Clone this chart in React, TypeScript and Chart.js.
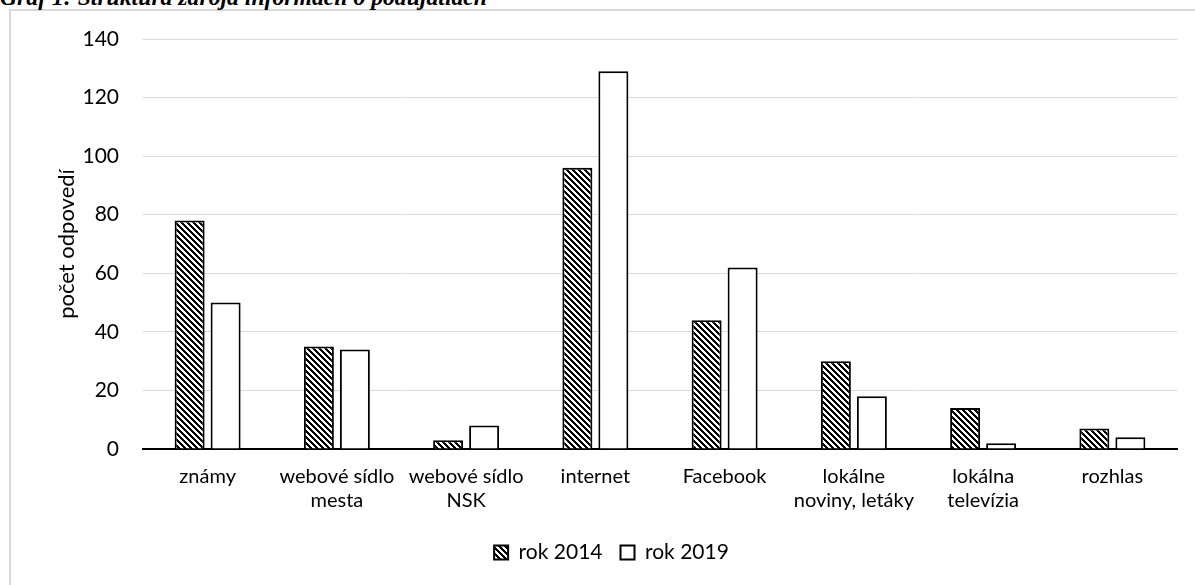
import React, { useEffect, useRef } from "react";
import { Chart, registerables } from "chart.js";

Chart.register(...registerables);

const categories: (string | string[])[] = [
  "známy",
  ["webové sídlo", "mesta"],
  ["webové sídlo", "NSK"],
  "internet",
  "Facebook",
  ["lokálne", "noviny, letáky"],
  ["lokálna", "televízia"],
  "rozhlas",
];
const series2014 = [78, 35, 3, 96, 44, 30, 14, 7];
const series2019 = [50, 34, 8, 129, 62, 18, 2, 4];
const seriesNames = ["rok 2014", "rok 2019"];
const yAxisTitle = "počet odpovedí";
const chartTitle = "Graf 1: Štruktúra zdroja informácií o podujatiach";

function makeHatch(ctx: CanvasRenderingContext2D): CanvasPattern | string {
  const size = 6;
  const tile = document.createElement("canvas");
  tile.width = size;
  tile.height = size;
  const t = tile.getContext("2d");
  if (!t) return "#000";
  t.fillStyle = "#fff";
  t.fillRect(0, 0, size, size);
  t.fillStyle = "#000";
  for (let y = 0; y < size; y++) {
    for (let x = 0; x < size; x++) {
      const d = (((x - y) % size) + size) % size;
      if (d < 3) t.fillRect(x, y, 1, 1);
    }
  }
  return ctx.createPattern(tile, "repeat") || "#000";
}

const legendShift = {
  id: "legendShift",
  afterLayout(chart: any) {
    const lg = chart.legend;
    if (lg) {
      lg.left += 23;
      lg.right += 23;
    }
  },
};

export default function App() {
  const ref = useRef<HTMLCanvasElement | null>(null);
  useEffect(() => {
    const canvas = ref.current;
    if (!canvas) return;
    const ctx = canvas.getContext("2d");
    if (!ctx) return;
    const hatch = makeHatch(ctx);
    const font = "Lato, 'Open Sans', sans-serif";
    const chart = new Chart(canvas, {
      type: "bar",
      data: {
        labels: categories,
        datasets: [
          {
            label: seriesNames[0],
            data: series2014,
            backgroundColor: hatch as any,
            borderColor: "#000",
            borderWidth: 2,
            categoryPercentage: 0.557,
            barPercentage: 0.833,
          },
          {
            label: seriesNames[1],
            data: series2019,
            backgroundColor: "#fff",
            borderColor: "#000",
            borderWidth: 2,
            categoryPercentage: 0.557,
            barPercentage: 0.833,
          },
        ],
      },
      plugins: [legendShift],
      options: {
        animation: false,
        responsive: true,
        maintainAspectRatio: false,
        layout: { padding: { left: 0, right: 18, top: 39, bottom: 12 } },
        plugins: {
          tooltip: { enabled: false },
          legend: {
            position: "bottom",
            labels: {
              color: "#000",
              font: { family: font, size: 21 },
              boxWidth: 14,
              boxHeight: 14,
              padding: 18,
            },
          },
        },
        scales: {
          x: {
            grid: { display: false, drawTicks: false },
            border: { display: true, color: "#000", width: 2 },
            ticks: {
              color: "#000",
              font: { family: font, size: 20, lineHeight: 1.2 },
              padding: 16,
              maxRotation: 0,
              autoSkip: false,
            },
            afterFit: (s: any) => {
              s.height = 75;
            },
          },
          y: {
            min: 0,
            max: 140,
            ticks: {
              stepSize: 20,
              color: "#000",
              font: { family: font, size: 21 },
              padding: 24,
            },
            grid: {
              drawTicks: false,
              color: (c: any) => (c.tick && c.tick.value === 0 ? "rgba(0,0,0,0)" : "#d9d9d9"),
              lineWidth: 1,
            },
            border: { display: false },
            title: {
              display: true,
              text: yAxisTitle,
              color: "#000",
              font: { family: font, size: 22 },
              padding: { top: 54, bottom: 0 },
            },
            afterFit: (s: any) => {
              s.width = 143;
            },
          },
        },
      },
    });
    return () => chart.destroy();
  }, []);

  return (
    <div style={{ position: "fixed", left: 0, top: 0, width: 1195, height: 585, background: "#fff", overflow: "hidden" }}>
      <div
        style={{
          position: "absolute",
          left: 9,
          top: 9,
          width: 1200,
          height: 600,
          border: "2px solid #d9d9d9",
          boxSizing: "border-box",
        }}
      />
      <div
        style={{
          position: "absolute",
          left: 0,
          top: -14,
          fontFamily: "'Liberation Serif', 'Times New Roman', serif",
          fontWeight: "bold",
          fontStyle: "italic",
          fontSize: 23.7,
          lineHeight: "23px",
          whiteSpace: "nowrap",
          color: "#000",
        }}
      >
        {chartTitle}
      </div>
      <div style={{ position: "absolute", left: 0, top: 0, width: 1195, height: 585 }}>
        <canvas ref={ref} />
      </div>
    </div>
  );
}
